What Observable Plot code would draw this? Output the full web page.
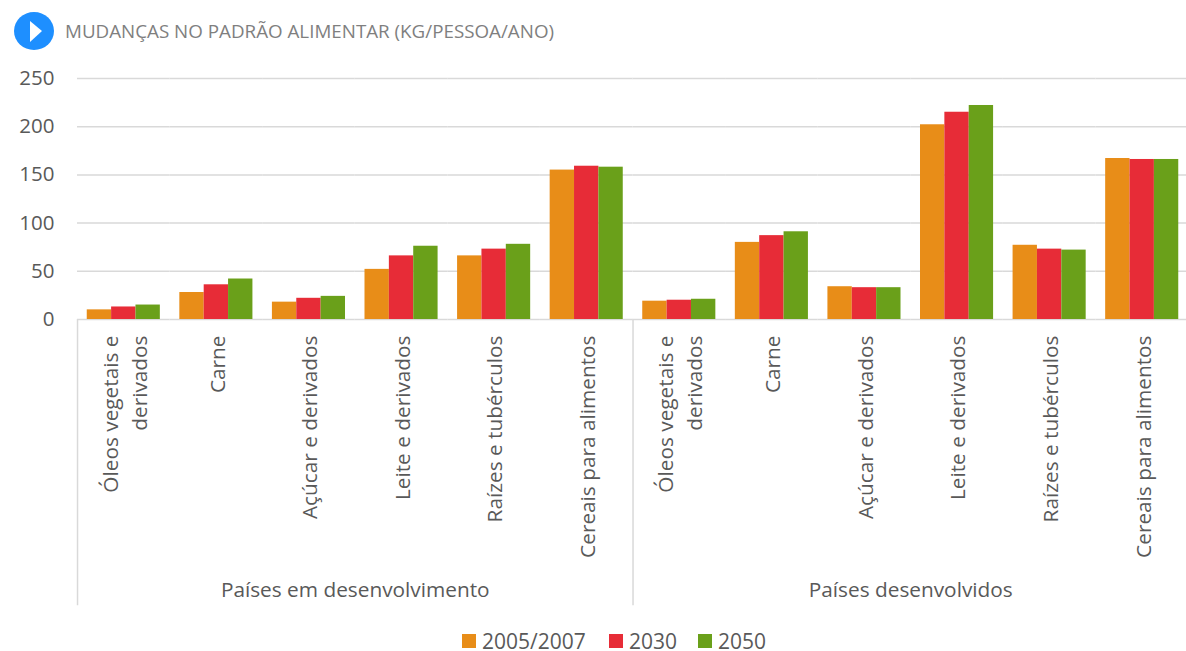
<!DOCTYPE html>
<html lang="pt">
<head>
<meta charset="utf-8">
<script src="https://cdn.jsdelivr.net/npm/d3@7"></script>
<script src="https://cdn.jsdelivr.net/npm/@observablehq/plot@0.6"></script>
<style>
  html, body { margin: 0; padding: 0; background: #fff; }
  body { width: 1186px; height: 651px; font-family: "Open Sans", sans-serif; }
  #head { height: 60px; position: relative; }
  #head svg { position: absolute; left: 14px; top: 12px; }
  #head div { position: absolute; left: 65px; top: 18px; font-size: 18.8px; line-height: 26px; color: #7f7f7f; white-space: nowrap; }
  #legend { position: relative; height: 20px; margin-top: 21px; font-size: 21px; color: #595959; }
  #legend span { position: absolute; top: 0; line-height: 20px; white-space: nowrap; }
  #legend i { position: absolute; top: 3px; width: 14px; height: 14px; }
</style>
</head>
<body>
<div id="head">
  <svg width="40" height="38" viewBox="0 0 40 38"><ellipse cx="20" cy="19" rx="20" ry="19" fill="#1e8fff"/><path d="M16 9 L28 19 L16 30 Z" fill="#fff"/></svg>
  <div>MUDANÇAS NO PADRÃO ALIMENTAR (KG/PESSOA/ANO)</div>
</div>
<div id="chart"></div>
<div id="legend"></div>
<script>
const groups = ["Países em desenvolvimento", "Países desenvolvidos"];
const categories = ["Óleos vegetais e\nderivados", "Carne", "Açúcar e derivados", "Leite e derivados", "Raízes e tubérculos", "Cereais para alimentos"];
const years = ["2005/2007", "2030", "2050"];
const colors = ["#e88d18", "#e72c37", "#6aa01a"];
const yTicks = [0, 50, 100, 150, 200, 250];

const dev2005 = [10, 28, 18, 52, 66, 155];
const dev2030 = [13, 36, 22, 66, 73, 159];
const dev2050 = [15, 42, 24, 76, 78, 158];
const rich2005 = [19, 80, 34, 202, 77, 167];
const rich2030 = [20, 87, 33, 215, 73, 166];
const rich2050 = [21, 91, 33, 222, 72, 166];

const seriesByGroup = [[dev2005, dev2030, dev2050], [rich2005, rich2030, rich2050]];
const key = (g, c) => g + "|" + c;
const slots = groups.flatMap(g => categories.map(c => key(g, c)));

const rows = [];
groups.forEach((g, gi) => years.forEach((year, yi) => categories.forEach((c, ci) => {
  rows.push({slot: key(g, c), year, value: seriesByGroup[gi][yi][ci]});
})));

const axisFont = {fontFamily: "'Open Sans', sans-serif", fill: "#595959"};
const slotLabels = slots.map(s => ({slot: s, label: s.split("|")[1]}));
const separatorDepth = -297;

const plot = Plot.plot({
  width: 1186,
  height: 550,
  marginLeft: 77,
  marginRight: -2,
  marginTop: 18,
  marginBottom: 291,
  style: {background: "#fff", overflow: "hidden"},
  fx: {domain: slots, padding: 0, round: false, axis: null},
  x: {domain: years, paddingInner: 0, paddingOuter: 0.4, round: false, axis: null},
  y: {domain: [0, 250], range: [259, 18], axis: null},
  color: {domain: years, range: colors},
  marks: [
    Plot.ruleY(yTicks, {stroke: "#d9d9d9", strokeWidth: 1.5}),
    Plot.barY(rows, {fx: "slot", x: "year", y: "value", fill: "year"}),
    Plot.axisY({ticks: yTicks, tickSize: 0, tickPadding: 0, dx: -23, label: null, fontSize: 20.5, ...axisFont}),
    Plot.ruleX(groups, {
      fx: g => key(g, categories[0]), x: () => years[0], y1: () => 0, y2: () => separatorDepth,
      dx: -21.9, stroke: "#d9d9d9", strokeWidth: 1.5
    }),
    Plot.text(slotLabels, {
      fx: "slot", x: () => years[1], y: () => 0, text: "label", rotate: -90,
      textAnchor: "end", lineAnchor: "middle", lineHeight: 1.4, dx: -1, dy: 16, fontSize: 20.8, ...axisFont
    }),
    Plot.text(groups, {
      fx: g => key(g, categories[2]), x: () => years[2], y: () => 0, text: d => d,
      dx: 21.9, dy: 271, fontSize: 20.8, ...axisFont
    })
  ]
});
document.getElementById("chart").append(plot);

const lefts = [[462, 482], [609, 629], [698, 718]];
const legend = document.getElementById("legend");
years.forEach((y, i) => {
  const sw = document.createElement("i");
  sw.style.left = lefts[i][0] + "px";
  sw.style.background = colors[i];
  const t = document.createElement("span");
  t.style.left = lefts[i][1] + "px";
  t.textContent = y;
  legend.append(sw, t);
});
</script>
</body>
</html>
